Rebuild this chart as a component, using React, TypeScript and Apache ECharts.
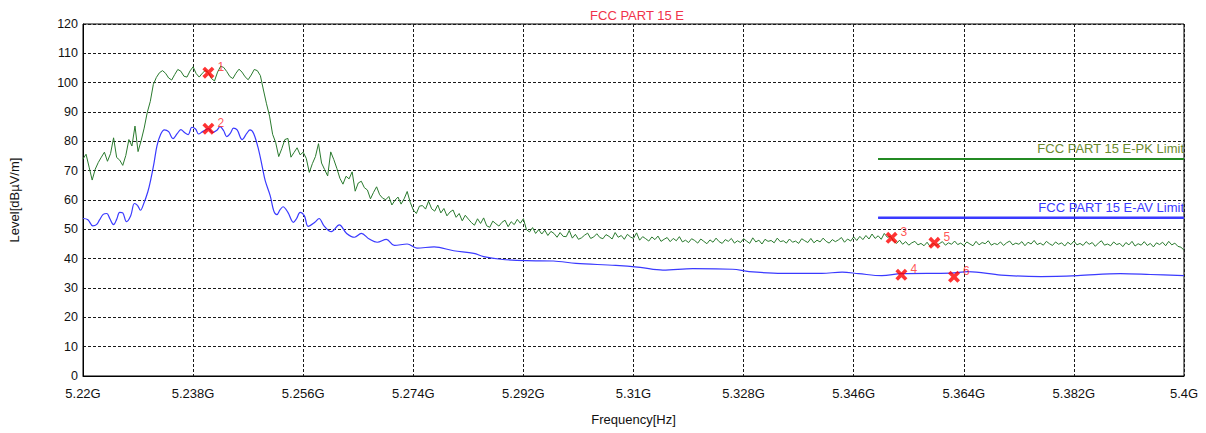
import React, { useEffect, useRef } from "react";
import * as echarts from "echarts";

// Frequency axis in MHz
const freqMin = 5220;
const freqMax = 5400;
const freqInterval = 18;
const xTickLabels = ["5.22G", "5.238G", "5.256G", "5.274G", "5.292G", "5.31G", "5.328G", "5.346G", "5.364G", "5.382G", "5.4G"];
const yTickMin = 0;
const yTickMax = 120;
const yTickInterval = 10;

// Peak trace: sampled every 0.5 MHz from 5220 MHz
const peakStartMHz = 5220;
const peakStepMHz = 0.5;
const peakValues = [
  74.0, 75.6, 71.2, 66.8, 70.5, 72.8, 74.6, 76.3, 73.2, 75.8,
  81.2, 74.5, 73.6, 71.8, 75.2, 80.6, 78.4, 85.2, 76.5, 80.2,
  84.5, 89.8, 93.6, 99.4, 101.8, 103.4, 104.1, 103.2, 101.6, 100.9,
  102.8, 104.5, 103.9, 102.2, 101.9, 104.0, 105.4, 103.1, 101.9, 103.2,
  104.2, 103.4, 101.4, 100.6, 103.6, 105.6, 105.2, 103.8, 102.1, 101.4,
  103.2, 104.6, 103.6, 102.0, 101.0, 102.6, 104.5, 104.1, 102.4, 97.5,
  92.8, 88.6, 82.4, 79.6, 74.8, 77.5, 80.6, 81.0, 74.6, 76.2,
  77.8, 75.4, 76.3, 74.2, 69.4, 72.4, 74.8, 79.2, 72.6, 70.4,
  68.2, 76.4, 73.8, 70.8, 67.4, 65.4, 68.1, 67.2, 69.6, 63.0,
  65.8, 66.4, 64.2, 63.4, 60.4, 62.6, 64.5, 61.8, 60.6, 60.1,
  61.2, 58.3, 59.9, 61.0, 58.6, 60.4, 62.9, 59.2, 56.6, 55.4,
  57.9, 58.1, 56.9, 59.6, 57.0, 56.2, 58.3, 55.6, 57.1, 54.6,
  55.9, 56.6, 54.1, 55.4, 52.9, 54.8, 53.5, 52.3, 51.4, 53.6,
  52.0, 53.9, 51.2, 50.7, 52.8, 51.9, 51.1, 52.4, 53.1, 50.9,
  52.6, 51.6, 53.4, 52.1, 53.6, 49.9, 49.1, 50.6, 48.6, 49.9,
  48.4, 49.7, 47.9, 49.3, 48.6, 47.3, 48.9, 47.6, 47.5, 49.6,
  47.0, 48.3, 46.6, 47.1, 48.0, 48.7, 46.9, 47.4, 48.5, 47.2,
  46.8, 48.2, 47.6, 46.7, 48.9, 47.3, 47.9, 46.6, 48.3, 47.4,
  46.9, 48.8, 46.3, 47.5, 46.8, 46.0, 47.4, 46.5, 47.7, 45.9,
  46.6, 47.2, 45.8, 46.9, 46.1, 47.5, 45.7, 46.3, 45.5, 46.8,
  46.2, 45.3, 46.7, 45.9, 45.1, 46.4, 45.6, 47.0, 45.8, 45.2,
  46.5, 45.9, 46.9, 45.3, 46.1, 45.5, 46.8, 46.0, 45.2, 47.1,
  45.7, 46.3, 45.0, 46.6, 45.9, 46.2, 45.4, 47.0, 45.8, 46.1,
  45.3, 46.7, 45.6, 46.0, 45.2, 46.8, 46.1, 45.5, 46.9, 45.4,
  46.3, 45.7, 47.0, 45.9, 45.3, 46.5, 45.8, 46.4, 47.2, 45.6,
  46.7, 46.0, 47.4, 46.2, 47.6, 46.5, 47.9, 46.7, 48.4, 46.9,
  47.8, 46.6, 48.6, 47.3, 47.6, 46.1, 45.2, 46.3, 44.9, 45.8,
  44.6, 45.4, 45.9, 44.7, 45.2, 44.4, 45.6, 44.1, 45.3, 44.5,
  45.1, 45.8, 44.6, 45.4, 44.9, 46.0, 44.8, 45.3, 44.5, 45.7,
  45.0, 44.4, 45.9, 44.7, 45.5, 45.1, 46.1, 44.6, 45.2, 44.8,
  45.7, 44.5, 45.4, 46.0, 44.7, 45.3, 44.9, 45.8, 44.4, 45.6,
  45.0, 46.2, 44.8, 45.3, 44.6, 45.9, 45.1, 44.5, 45.7, 44.9,
  45.4, 44.3, 45.6, 44.8, 46.0, 44.7, 45.2, 44.5, 45.8, 44.9,
  45.5, 44.2, 45.3, 46.1, 44.6, 45.0, 44.4, 45.7, 44.8, 45.2,
  44.1, 45.5, 44.7, 45.9, 44.3, 45.1, 44.6, 45.8, 44.5, 45.2,
  44.0, 45.4, 44.8, 45.6, 44.4, 45.9, 44.7, 45.3, 44.2, 43.9,
  42.9,
];

// Average trace: frequencies (MHz) and levels
const avgFreqs = [
  5220.0, 5220.8, 5221.6, 5222.2, 5222.7, 5223.3, 5223.9, 5224.4, 5225.0, 5225.5,
  5226.0, 5226.5, 5227.1, 5227.8, 5228.4, 5228.9, 5229.4, 5229.9, 5230.6, 5231.1,
  5231.6, 5232.1, 5232.7, 5233.3, 5234.0, 5234.7, 5235.4, 5236.0, 5236.6, 5237.2,
  5237.8, 5238.4, 5238.9, 5239.6, 5240.5, 5241.2, 5241.9, 5242.4, 5243.0, 5243.5,
  5244.1, 5244.6, 5245.2, 5246.0, 5246.8, 5247.3, 5247.9, 5248.7, 5249.3, 5249.8,
  5250.6, 5251.2, 5251.7, 5252.2, 5252.7, 5253.5, 5254.4, 5254.9, 5255.5, 5256.2,
  5256.8, 5257.9, 5258.6, 5259.4, 5260.6, 5261.9, 5263.1, 5264.4, 5265.5, 5266.8,
  5268.1, 5269.6, 5270.9, 5273.0, 5274.6, 5277.4, 5280.6, 5283.9, 5285.5, 5288.3,
  5292.5, 5296.9, 5300.6, 5307.1, 5311.1, 5314.8, 5319.7, 5326.2, 5328.9, 5334.3,
  5340.8, 5344.1, 5346.8, 5350.6, 5353.8, 5361.9, 5364.7, 5370.1, 5376.6, 5382.6,
  5389.6, 5394.5, 5400.0,
];
const avgValues = [
  53.7, 53.3, 51.2, 51.6, 53.2, 55.1, 55.4, 53.6, 51.6, 53.4,
  55.8, 55.6, 52.6, 54.6, 58.8, 58.2, 56.5, 58.6, 62.8, 67.2,
  72.5, 78.5, 82.4, 83.9, 83.3, 80.9, 82.6, 84.0, 83.0, 82.3,
  84.8, 84.2, 82.5, 83.4, 84.3, 83.0, 83.8, 85.0, 83.6, 81.6,
  82.8, 84.5, 83.9, 80.6, 82.8, 83.9, 82.7, 77.2, 71.4, 66.5,
  61.5, 56.2, 55.0, 56.6, 57.7, 55.8, 52.4, 53.6, 55.8, 54.6,
  51.0, 52.4, 53.7, 51.2, 49.2, 51.5, 48.6, 47.3, 48.6, 46.7,
  45.6, 46.6, 44.5, 45.0, 43.6, 44.0, 42.7, 41.8, 40.7, 39.8,
  39.3, 39.2, 38.4, 37.7, 37.0, 36.1, 36.6, 36.4, 35.6, 35.0,
  35.0, 35.4, 34.9, 34.2, 34.9, 35.1, 35.6, 34.4, 33.9, 34.2,
  34.9, 34.6, 34.2, 35.1, 34.5, 33.4,
];

// Limits
const pkLimitFreqs = [5350, 5400];
const pkLimitValues = [74, 74];
const avLimitFreqs = [5350, 5400];
const avLimitValues = [54, 54];
const pkLimitName = "FCC PART 15 E-PK Limit";
const avLimitName = "FCC PART 15 E-AV Limit";

// Markers
const markerIds = ["1", "2", "3", "4", "5", "6"];
const markerFreqs = [5240.5, 5240.5, 5352.2, 5353.8, 5359.2, 5362.4];
const markerValues = [103.4, 84.3, 47.1, 34.5, 45.4, 33.8];

const titleText = "FCC PART 15 E";
const xAxisName = "Frequency[Hz]";
const yAxisName = "Level[dBµV/m]";

const FONT = "'Liberation Sans', Arial, sans-serif";
const crossPath =
  "path://M0,3 L3,0 L7,4 L11,0 L14,3 L10,7 L14,11 L11,14 L7,10 L3,14 L0,11 L4,7 Z";

export default function App() {
  const ref = useRef<HTMLDivElement>(null);

  useEffect(() => {
    if (!ref.current) return;
    const chart = echarts.init(ref.current, null, { renderer: "svg" });

    const peakData = peakValues.map((v, i) => [peakStartMHz + i * peakStepMHz, v]);
    const avgData = avgFreqs.map((f, i) => [f, avgValues[i]]);
    const pkData = pkLimitFreqs.map((f, i) => [f, pkLimitValues[i]]);
    const avData = avLimitFreqs.map((f, i) => [f, avLimitValues[i]]);
    const markerData = markerFreqs.map((f, i) => ({
      value: [f, markerValues[i]],
      name: markerIds[i],
    }));

    const gridLine = { show: true, lineStyle: { color: "#1a1a1a", type: [3, 2] as any, width: 1 } };

    chart.setOption({
      animation: false,
      backgroundColor: "#ffffff",
      title: {
        text: titleText,
        left: 632,
        textAlign: "center",
        top: 4,
        textStyle: { color: "#f0334a", fontSize: 13, fontWeight: "normal", fontFamily: FONT },
      },
      grid: {
        left: 77,
        right: 22,
        top: 24,
        bottom: 57,
        show: true,
        borderColor: "#000",
        borderWidth: 1,
        backgroundColor: "transparent",
      },
      xAxis: {
        type: "value",
        min: freqMin,
        max: freqMax,
        interval: freqInterval,
        name: xAxisName,
        nameLocation: "middle",
        nameGap: 37,
        nameTextStyle: { color: "#111", fontSize: 13, fontFamily: FONT },
        axisLine: { show: true, lineStyle: { color: "#000", width: 1 } },
        axisTick: { show: false },
        axisLabel: {
          color: "#111",
          fontSize: 13,
          fontFamily: FONT,
          margin: 11,
          formatter: (v: number) => xTickLabels[Math.round((v - freqMin) / freqInterval)] ?? "",
        },
        splitLine: gridLine,
      },
      yAxis: {
        type: "value",
        min: yTickMin,
        max: yTickMax,
        interval: yTickInterval,
        name: yAxisName,
        nameLocation: "middle",
        nameGap: 62,
        nameTextStyle: { color: "#111", fontSize: 13, fontFamily: FONT },
        axisLine: { show: true, lineStyle: { color: "#000", width: 1 } },
        axisTick: { show: false },
        axisLabel: { color: "#111", fontSize: 12.5, fontFamily: FONT, margin: 5 },
        splitLine: gridLine,
      },
      series: [
        {
          type: "line",
          name: "Peak",
          data: peakData,
          showSymbol: false,
          symbol: "none",
          sampling: undefined,
          lineStyle: { color: "#2a7a2e", width: 1 },
          z: 3,
        },
        {
          type: "line",
          name: "Average",
          data: avgData,
          showSymbol: false,
          symbol: "none",
          smooth: 0.35,
          lineStyle: { color: "#3a3aff", width: 1.2 },
          z: 3,
        },
        {
          type: "line",
          name: pkLimitName,
          data: pkData,
          showSymbol: false,
          symbol: "none",
          lineStyle: { color: "#238a23", width: 2 },
          markLine: {
            silent: true,
            symbol: "none",
            lineStyle: { color: "#238a23", width: 2, type: "solid" },
            label: {
              show: true,
              position: "insideEndTop",
              formatter: pkLimitName,
              color: "#6b8a2e",
              fontSize: 13,
              fontFamily: FONT,
              distance: [0, 4],
            },
            data: [[{ coord: pkData[0] }, { coord: pkData[1] }]],
          },
          z: 2,
        },
        {
          type: "line",
          name: avLimitName,
          data: avData,
          showSymbol: false,
          symbol: "none",
          lineStyle: { color: "#3a3aff", width: 2 },
          markLine: {
            silent: true,
            symbol: "none",
            lineStyle: { color: "#3a3aff", width: 2, type: "solid" },
            label: {
              show: true,
              position: "insideEndTop",
              formatter: avLimitName,
              color: "#3a3aff",
              fontSize: 13,
              fontFamily: FONT,
              distance: [0, 4],
            },
            data: [[{ coord: avData[0] }, { coord: avData[1] }]],
          },
          z: 2,
        },
        {
          type: "scatter",
          name: "Markers",
          data: markerData,
          symbol: crossPath,
          symbolSize: 12,
          itemStyle: { color: "#ff0000" },
          label: {
            show: true,
            formatter: (p: any) => p.name,
            position: "right",
            offset: [-2, -6],
            color: "#ff2a2a",
            fontSize: 12,
            fontFamily: FONT,
          },
          z: 5,
        },
      ],
    });

    return () => chart.dispose();
  }, []);

  return (
    <div
      ref={ref}
      style={{ position: "fixed", left: 0, top: 0, width: 1206, height: 433, background: "#fff" }}
    />
  );
}
